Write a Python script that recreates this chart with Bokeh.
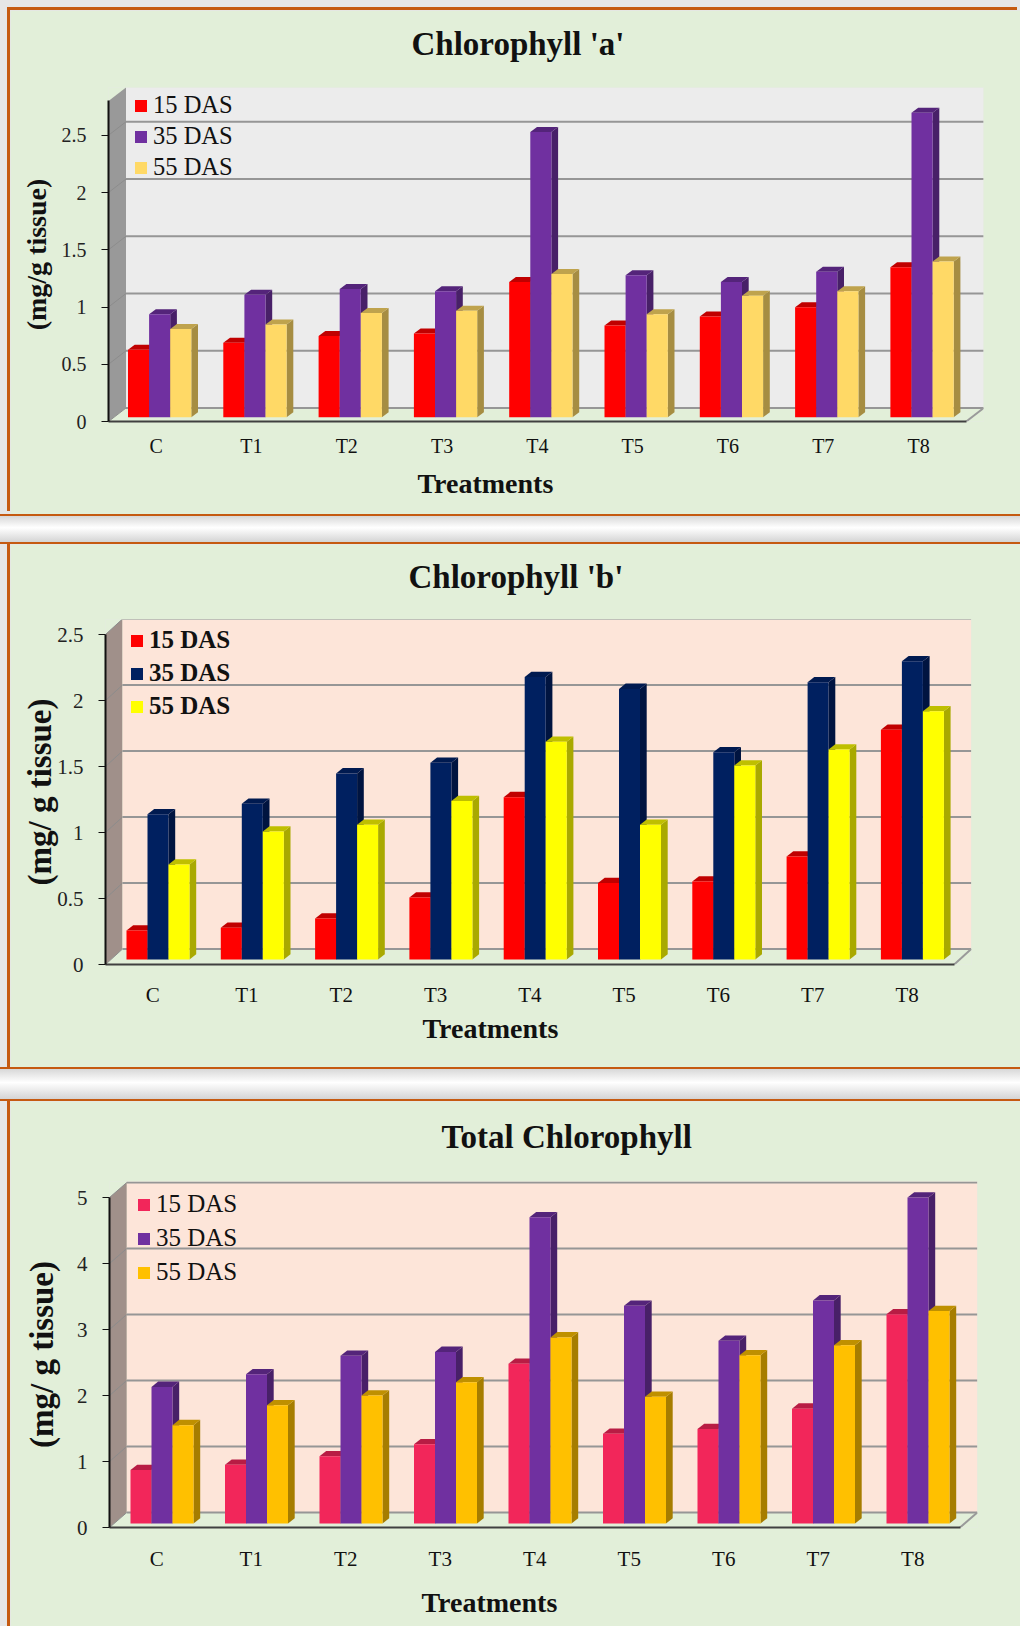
from bokeh.embed import file_html
from bokeh.resources import INLINE
from bokeh.plotting import figure
from bokeh.layouts import column
from bokeh.models import (Range1d, FixedTicker, NumeralTickFormatter, Legend, LegendItem,
                          Title, Spacer)

categories = ["C", "T1", "T2", "T3", "T4", "T5", "T6", "T7", "T8"]
series_names = ["15 DAS", "35 DAS", "55 DAS"]

chl_a_15 = [0.59, 0.65, 0.71, 0.73, 1.18, 0.80, 0.88, 0.96, 1.31]
chl_a_35 = [0.90, 1.07, 1.12, 1.10, 2.49, 1.24, 1.18, 1.27, 2.66]
chl_a_55 = [0.77, 0.81, 0.91, 0.93, 1.25, 0.90, 1.06, 1.10, 1.36]

chl_b_15 = [0.22, 0.24, 0.31, 0.47, 1.23, 0.58, 0.59, 0.78, 1.74]
chl_b_35 = [1.10, 1.18, 1.41, 1.49, 2.14, 2.05, 1.57, 2.10, 2.26]
chl_b_55 = [0.72, 0.97, 1.02, 1.20, 1.65, 1.02, 1.47, 1.59, 1.88]

total_15 = [0.81, 0.89, 1.02, 1.20, 2.42, 1.36, 1.43, 1.74, 3.17]
total_35 = [2.07, 2.26, 2.54, 2.60, 4.64, 3.30, 2.77, 3.38, 4.94]
total_55 = [1.49, 1.79, 1.94, 2.14, 2.82, 1.92, 2.55, 2.70, 3.22]

ticks_a = [0, 0.5, 1, 1.5, 2, 2.5]
ticks_b = [0, 0.5, 1, 1.5, 2, 2.5]
ticks_t = [0, 1, 2, 3, 4, 5]

SERIF = "Liberation Serif"
PANEL = "#e2efd9"
ORANGE = "#c55a11"
EDGE = "#e6e6e6"


def panel(title, ylabel, ticks, series, colors, g):
    unit_x, unit_y = g["ux"], g["uy"]
    dx, dy = g["dx"] / unit_x, g["dy"] / unit_y
    frame_w = g["w"] - g["left"] - g["right"]
    frame_h = g["h"] - g["top"] - g["bottom"]
    p = figure(width=g["w"], height=g["h"], output_backend="svg", toolbar_location=None,
               x_range=Range1d(0, frame_w / unit_x), y_range=Range1d(0, frame_h / unit_y),
               min_border_left=g["left"], min_border_right=g["right"],
               min_border_top=g["top"], min_border_bottom=g["bottom"], frame_align=False,
               background_fill_color=PANEL, border_fill_color=PANEL,
               outline_line_color=None, margin=(0, 0, 0, 10), styles={"box-shadow": g["shadow"]})
    p.grid.visible = False
    n = len(categories)
    ymax = g["ymax"]

    # walls and floor
    p.patch([0, dx, dx, 0], [0, dy, ymax + dy, ymax], fill_color=g["side"], line_color=None)
    p.quad(left=dx, right=n + dx, bottom=dy, top=frame_h / unit_y, fill_color=g["wall"], line_color=None)
    p.patch([0, n, n + dx, dx], [0, 0, dy, dy], fill_color=PANEL, line_color=None)
    p.segment([dx] * len(ticks), [t + dy for t in ticks], [n + dx] * len(ticks), [t + dy for t in ticks],
              line_color="#969696", line_width=2)
    p.segment([0] * len(ticks), ticks, [dx] * len(ticks), [t + dy for t in ticks],
              line_color="#8c8c8c", line_width=1)
    p.segment([n], [0], [n + dx], [dy], line_color="#9a9a9a", line_width=2)

    # bars
    bw = g["bw"] / unit_x
    base = g["base"] / unit_y
    sx, sy = g["sx"] / unit_x, g["sy"] / unit_y
    start = g["start"] / unit_x
    items = []
    for k, (vals, (front, top, side)) in enumerate(zip(series, colors)):
        lefts = [i + start + k * bw for i in range(n)]
        rights = [l + bw for l in lefts]
        tops = [v + base for v in vals]
        p.patches([[r, r + sx, r + sx, r] for r in rights],
                  [[base, base + sy, t + sy, t] for t in tops],
                  fill_color=side, line_color=None)
        p.patches([[l, l + sx, r + sx, r] for l, r in zip(lefts, rights)],
                  [[t, t + sy, t + sy, t] for t in tops],
                  fill_color=top, line_color=None)
        r = p.quad(left=lefts, right=rights, bottom=base, top=tops, fill_color=front, line_color=None)
        items.append(LegendItem(label=series_names[k], renderers=[r]))

    legend = Legend(items=items, location=g["legend_xy"], orientation="vertical",
                    background_fill_alpha=0, border_line_color=None, padding=0, margin=0,
                    spacing=g["spacing"], glyph_width=15, glyph_height=15, label_height=28,
                    label_standoff=g["standoff"], label_text_font=SERIF,
                    label_text_font_size=g["legend_size"], label_text_font_style=g["legend_style"],
                    label_text_color="#111111", label_text_baseline="middle")
    p.add_layout(legend)

    # axes
    xa, ya = p.xaxis[0], p.yaxis[0]
    xa.ticker = FixedTicker(ticks=[i + 0.5 for i in range(n)])
    xa.major_label_overrides = {i + 0.5: c for i, c in enumerate(categories)}
    xa.bounds = (0, n)
    xa.major_tick_line_color = None
    xa.minor_tick_line_color = None
    xa.axis_line_color = "#404040"
    xa.axis_line_width = 2
    xa.major_label_text_font = SERIF
    xa.major_label_text_font_size = g["tick_size"]
    xa.major_label_text_color = "#111111"
    xa.major_label_standoff = g["xstand"]

    ya.ticker = FixedTicker(ticks=ticks)
    ya.formatter = NumeralTickFormatter(format="0.[0]")
    ya.bounds = (0, ymax)
    ya.minor_tick_line_color = None
    ya.major_tick_in = 0
    ya.major_tick_out = 7
    ya.major_tick_line_color = "#111111"
    ya.axis_line_color = "#111111"
    ya.axis_line_width = 2
    ya.major_label_text_font = SERIF
    ya.major_label_text_font_size = g["tick_size"]
    ya.major_label_text_color = "#222222"
    ya.major_label_standoff = g["ystand"]
    ya.axis_label = ylabel
    ya.axis_label_text_font = SERIF
    ya.axis_label_text_font_style = "bold"
    ya.axis_label_text_font_size = g["ylab_size"]
    ya.axis_label_text_color = "#111111"
    ya.axis_label_standoff = g["lab_stand"]

    p.add_layout(Title(text=title, align="left", offset=g["title_off"], standoff=0,
                       padding=(0, 0, 0, g["title_pad"]),
                       vertical_align="bottom", text_font=SERIF, text_font_style="bold",
                       text_font_size="33px", text_color="#111111"), "above")
    p.add_layout(Title(text="Treatments", align="left", offset=g["xlab_off"], standoff=0,
                       padding=(0, 0, g["xlab_pad"], 0),
                       vertical_align="top", text_font=SERIF, text_font_style="bold",
                       text_font_size="28px", text_color="#111111"), "below")
    return p


colors_a = [("#ff0000", "#c00000", "#a60000"), ("#7030a0", "#54247a", "#482068"), ("#ffd966", "#bfa34d", "#a68d42")]
colors_b = [("#ff0000", "#c00000", "#a60000"), ("#002060", "#001a50", "#001440"), ("#ffff00", "#bfbf00", "#a9a900")]
colors_t = [("#f2265a", "#b81c44", "#9e183a"), ("#7030a0", "#54247a", "#482068"), ("#ffc000", "#bf9000", "#a67d00")]

g1 = dict(w=1010, h=504, left=98, right=37, top=77, bottom=93, ux=95.3, uy=114.5, dx=17.5, dy=13.5,
          ymax=2.8, wall="#ececec", side="#999999", bw=21.1, start=19.5, base=4.3, sx=6.7, sy=5,
          legend_xy=(25, 240), spacing=3, standoff=5, legend_size="24.5px", legend_style="normal",
          tick_size="20px", xstand=7, ystand=15, lab_stand=7, ylab_size="28px",
          title_off=303, title_pad=26, xlab_off=309, xlab_pad=8,
          shadow=f"-3px -3px 0 {ORANGE}")
g2 = dict(w=1010, h=523, left=95, right=49, top=75, bottom=103, ux=94.3, uy=132, dx=17, dy=15.5,
          ymax=2.5, wall="#fde5d9", side="#a0908a", bw=21, start=21, base=5, sx=6.7, sy=5.3,
          legend_xy=(24, 244), spacing=5, standoff=5, legend_size="25px", legend_style="bold",
          tick_size="21px", xstand=12, ystand=15, lab_stand=-4, ylab_size="33px",
          title_off=303, title_pad=25, xlab_off=317, xlab_pad=3,
          shadow=f"-3px 0 0 {ORANGE}")
g3 = dict(w=1010, h=525, left=99, right=43, top=80, bottom=99, ux=94.5, uy=66, dx=17.3, dy=15,
          ymax=5, wall="#fde5d9", side="#a0908a", bw=21, start=21, base=4, sx=6.7, sy=5.3,
          legend_xy=(27, 241), spacing=6, standoff=5, legend_size="25px", legend_style="normal",
          tick_size="21px", xstand=13, ystand=15, lab_stand=14, ylab_size="33px",
          title_off=332, title_pad=27, xlab_off=312, xlab_pad=13,
          shadow=f"-3px 0 0 {ORANGE}")

p1 = panel("Chlorophyll  'a'", "(mg/g tissue)", ticks_a, [chl_a_15, chl_a_35, chl_a_55], colors_a, g1)
p2 = panel("Chlorophyll  'b'", "(mg/ g tissue)", ticks_b, [chl_b_15, chl_b_35, chl_b_55], colors_b, g2)
p3 = panel("Total Chlorophyll", "(mg/ g tissue)", ticks_t, [total_15, total_35, total_55], colors_t, g3)


def gap(h):
    return Spacer(width=1020, height=h, styles={
        "background": "linear-gradient(#d8d8d8, #ffffff 45%, #d4d4d4)",
        "border-top": f"2px solid {ORANGE}", "border-bottom": f"2px solid {ORANGE}",
        "box-sizing": "border-box"})


layout = column(Spacer(width=1020, height=10), p1, gap(30), p2, gap(34), p3, spacing=0,
                styles={"background": EDGE})
open("out.html", "w").write(file_html(layout, INLINE))
